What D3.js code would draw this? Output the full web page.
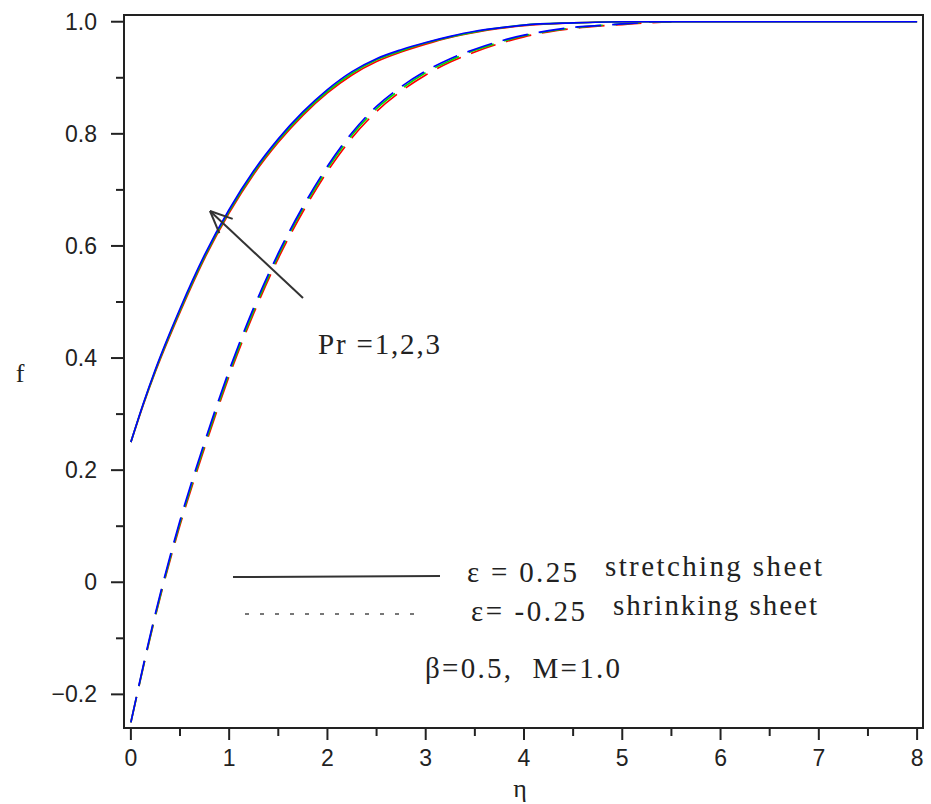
<!DOCTYPE html>
<html>
<head>
<meta charset="utf-8">
<script src="https://cdn.jsdelivr.net/npm/d3@7"></script>
<style>
  html, body { margin: 0; padding: 0; background: #fff; }
  svg { display: block; }
</style>
</head>
<body>
<svg id="chart" width="931" height="804"></svg>
<script>
// Velocity profiles f(η) for Pr = 1, 2, 3 on a stretching (ε = 0.25) and shrinking (ε = -0.25) sheet
const eta = [0, 0.125, 0.25, 0.5, 0.75, 1.0, 1.25, 1.5, 1.75, 2.0, 2.25, 2.5, 2.75, 3.0, 3.25, 3.5, 3.75, 4.0, 4.5, 5.0, 6.0, 7.0, 8.0];

const stretchPr1 = [0.250, 0.316, 0.376, 0.482, 0.578, 0.659, 0.728, 0.785, 0.833, 0.873, 0.905, 0.929, 0.946, 0.960, 0.972, 0.981, 0.988, 0.993, 0.998, 1.0, 1.0, 1.0, 1.0];
const stretchPr2 = [0.250, 0.317, 0.378, 0.485, 0.581, 0.662, 0.731, 0.788, 0.836, 0.876, 0.908, 0.932, 0.948, 0.962, 0.973, 0.982, 0.989, 0.994, 0.998, 1.0, 1.0, 1.0, 1.0];
const stretchPr3 = [0.250, 0.318, 0.380, 0.488, 0.584, 0.665, 0.734, 0.791, 0.839, 0.879, 0.911, 0.934, 0.950, 0.963, 0.974, 0.983, 0.989, 0.994, 0.998, 1.0, 1.0, 1.0, 1.0];

const etaShrink = [0, 0.25, 0.5, 0.75, 1.0, 1.25, 1.5, 1.75, 2.0, 2.25, 2.5, 2.75, 3.0, 3.25, 3.5, 3.75, 4.0, 4.25, 4.5, 4.75, 5.0, 5.25, 5.5];
const shrinkPr1 = [-0.250, -0.060, 0.102, 0.240, 0.368, 0.480, 0.578, 0.661, 0.733, 0.793, 0.840, 0.876, 0.905, 0.928, 0.946, 0.961, 0.973, 0.982, 0.988, 0.992, 0.995, 0.998, 1.0];
const shrinkPr2 = [-0.250, -0.058, 0.106, 0.245, 0.373, 0.485, 0.583, 0.666, 0.738, 0.798, 0.845, 0.880, 0.909, 0.931, 0.949, 0.963, 0.975, 0.983, 0.989, 0.993, 0.996, 0.999, 1.0];
const shrinkPr3 = [-0.250, -0.055, 0.110, 0.250, 0.378, 0.490, 0.587, 0.670, 0.742, 0.802, 0.849, 0.884, 0.912, 0.934, 0.951, 0.965, 0.976, 0.984, 0.990, 0.993, 0.996, 0.999, 1.0];

const prColors = ["#ff0000", "#00e000", "#0000ff"];

const xTicks = [0, 1, 2, 3, 4, 5, 6, 7, 8];
const xMinorTicks = [0.5, 1.5, 2.5, 3.5, 4.5, 5.5, 6.5, 7.5];
const yTicks = [-0.2, 0, 0.2, 0.4, 0.6, 0.8, 1.0];
const yMinorTicks = [-0.1, 0.1, 0.3, 0.5, 0.7, 0.9];
const yTickLabels = ["\u22120.2", "0", "0.2", "0.4", "0.6", "0.8", "1.0"];

const svg = d3.select("#chart");

const x = d3.scaleLinear().domain([-0.07, 8.06]).range([124, 923]);
const y = d3.scaleLinear().domain([-0.26, 1.012]).range([728, 15]);

const ink = "#222";
const tickFont = "'Liberation Sans', Arial, sans-serif";
const serif = "'Liberation Serif', 'Times New Roman', serif";

// curves
const line = d3.line().x(d => x(d[0])).y(d => y(d[1])).curve(d3.curveMonotoneX);
const curves = svg.append("g").attr("fill", "none").attr("stroke-width", 1.7);

[shrinkPr1, shrinkPr2, shrinkPr3].forEach((vals, i) => {
  curves.append("path")
    .attr("d", line(etaShrink.map((e, k) => [e, vals[k]])))
    .attr("stroke", prColors[i])
    .attr("stroke-dasharray", "26,11");
});
[stretchPr1, stretchPr2, stretchPr3].forEach((vals, i) => {
  curves.append("path")
    .attr("d", line(eta.map((e, k) => [e, vals[k]])))
    .attr("stroke", prColors[i]);
});

// frame
const [x0, x1] = x.range();
const [y0, y1] = y.range();
svg.append("rect")
  .attr("x", x0).attr("y", y1)
  .attr("width", x1 - x0).attr("height", y0 - y1)
  .attr("fill", "none").attr("stroke", ink).attr("stroke-width", 2);

// x axis ticks
const gx = svg.append("g").attr("stroke", ink).attr("stroke-width", 2);
gx.selectAll("line.major").data(xTicks).join("line")
  .attr("x1", d => x(d)).attr("x2", d => x(d))
  .attr("y1", y0).attr("y2", y0 + 12);
gx.selectAll("line.minor").data(xMinorTicks).join("line")
  .attr("x1", d => x(d)).attr("x2", d => x(d))
  .attr("y1", y0).attr("y2", y0 + 8);
svg.append("g").selectAll("text").data(xTicks).join("text")
  .attr("x", d => x(d)).attr("y", 766)
  .attr("text-anchor", "middle")
  .attr("font-family", tickFont).attr("font-size", 23).attr("fill", ink)
  .text(d => d);

// y axis ticks
const gy = svg.append("g").attr("stroke", ink).attr("stroke-width", 2);
gy.selectAll("line.major").data(yTicks).join("line")
  .attr("x1", x0 - 13).attr("x2", x0)
  .attr("y1", d => y(d)).attr("y2", d => y(d));
gy.selectAll("line.minor").data(yMinorTicks).join("line")
  .attr("x1", x0 - 8).attr("x2", x0)
  .attr("y1", d => y(d)).attr("y2", d => y(d));
svg.append("g").selectAll("text").data(yTicks).join("text")
  .attr("x", 97).attr("y", d => y(d) + 8)
  .attr("text-anchor", "end")
  .attr("font-family", tickFont).attr("font-size", 23).attr("fill", ink)
  .text((d, i) => yTickLabels[i]);

// axis titles
svg.append("text").attr("x", 520).attr("y", 797).attr("text-anchor", "middle")
  .attr("font-family", serif).attr("font-size", 26).attr("fill", ink).text("η");
svg.append("text").attr("x", 20).attr("y", 382).attr("text-anchor", "middle")
  .attr("font-family", serif).attr("font-size", 26).attr("fill", ink).text("f");

// arrow marking increasing Pr
const ax0 = 303, ay0 = 298, ax1 = 210, ay1 = 211;
const ang = Math.atan2(ay0 - ay1, ax0 - ax1);
const arrow = svg.append("g").attr("stroke", "#333").attr("stroke-width", 2).attr("fill", "none");
arrow.append("line").attr("x1", ax0).attr("y1", ay0).attr("x2", ax1).attr("y2", ay1);
[-0.42, 0.42].forEach(da => {
  arrow.append("line")
    .attr("x1", ax1).attr("y1", ay1)
    .attr("x2", ax1 + 24 * Math.cos(ang + da))
    .attr("y2", ay1 + 24 * Math.sin(ang + da));
});

// annotation and legend text, set wide like the original typesetting
const label = (tx, ty, str, len) => svg.append("text")
  .attr("x", tx).attr("y", ty)
  .attr("font-family", serif).attr("font-size", 29).attr("fill", ink)
  .attr("textLength", len).attr("lengthAdjust", "spacing")
  .style("white-space", "pre")
  .text(str);

label(318, 354, "Pr =1,2,3", 122);

svg.append("line").attr("x1", 233).attr("y1", 577).attr("x2", 440).attr("y2", 576)
  .attr("stroke", "#333").attr("stroke-width", 2);
svg.append("line").attr("x1", 245).attr("y1", 614).attr("x2", 418).attr("y2", 614)
  .attr("stroke", "#777").attr("stroke-width", 2).attr("stroke-dasharray", "4,11");

label(467, 582, "ε = 0.25", 110);
label(605, 576, "stretching sheet", 217);
label(471, 621, "ε= -0.25", 114);
label(613, 615, "shrinking sheet", 204);
label(425, 678, "β=0.5,  M=1.0", 195);
</script>
</body>
</html>
